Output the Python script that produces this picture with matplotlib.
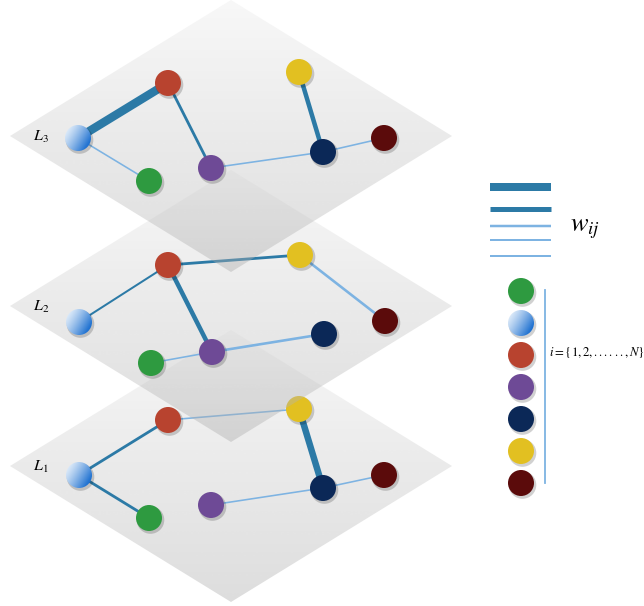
import numpy as np
import matplotlib
matplotlib.use("Agg")
import matplotlib.pyplot as plt
from matplotlib.patches import Polygon, Circle

plt.rcParams["mathtext.fontset"] = "stix"

W, H = 644, 606

# layer planes: centre y of each diamond (pixel coords)
layer_names = ["L_1", "L_2", "L_3"]
layer_cy = [466, 306, 136]
plane_cx, plane_hw, plane_hh = 231, 221, 136

node_order = ["green", "lightblue", "red", "purple", "navy", "yellow", "maroon"]
node_colors = {
    "green": "#2e9a40",
    "red": "#b8432f",
    "purple": "#6e4a96",
    "navy": "#0b2857",
    "yellow": "#e2c021",
    "maroon": "#5b0b0b",
}

# node positions per layer
pos_L1 = {"red": (168, 420), "yellow": (299, 409), "lightblue": (79, 475),
          "maroon": (384, 475), "navy": (323, 488), "purple": (211, 505),
          "green": (149, 518)}
pos_L2 = {"red": (168, 265), "yellow": (300, 255), "lightblue": (79, 322),
          "maroon": (385, 321), "navy": (324, 334), "purple": (212, 352),
          "green": (151, 363)}
pos_L3 = {"red": (168, 83), "yellow": (299, 72), "lightblue": (78, 138),
          "maroon": (384, 138), "navy": (323, 152), "purple": (211, 168),
          "green": (149, 181)}

# edges: (from, to, weight class)
edges_L1 = [("red", "yellow", 1), ("lightblue", "red", 3), ("lightblue", "green", 3),
            ("yellow", "navy", 5), ("purple", "navy", 1), ("navy", "maroon", 1)]
edges_L2 = [("red", "yellow", 3), ("lightblue", "red", 7), ("red", "purple", 4),
            ("yellow", "maroon", 2), ("green", "purple", 1), ("purple", "navy", 2)]
edges_L3 = [("lightblue", "red", 6), ("red", "purple", 3), ("lightblue", "green", 1),
            ("purple", "navy", 1), ("yellow", "navy", 4), ("navy", "maroon", 1)]

# legend of weights (pixel thickness)
legend_bar_px = [8, 5, 2.5, 2, 2]
legend_bar_y = [187, 209, 226, 240, 256]

DARK = "#2c7aa6"
LIGHT = "#7db3e2"
edge_style = {1: (LIGHT, 1.6), 2: (LIGHT, 2.6), 3: (DARK, 2.8), 7: (DARK, 2.0),
              4: (DARK, 4.5), 5: (DARK, 6.5), 6: (DARK, 8.5)}

R = 13
PX = 0.72  # points per pixel at dpi 100

fig = plt.figure(figsize=(W / 100, H / 100), dpi=100)
ax = fig.add_axes([0, 0, 1, 1])
ax.set_xlim(0, W)
ax.set_ylim(H, 0)
ax.axis("off")


def draw_plane(cy, z):
    pts = [(plane_cx - plane_hw, cy), (plane_cx, cy - plane_hh),
           (plane_cx + plane_hw, cy), (plane_cx, cy + plane_hh)]
    poly = Polygon(pts, closed=True, facecolor="none", edgecolor="none", zorder=z)
    ax.add_patch(poly)
    t = np.linspace(0, 1, 200)[:, None]
    g = 0.93 - 0.26 * t
    img = np.zeros((200, 1, 4))
    img[..., 0] = g
    img[..., 1] = g
    img[..., 2] = g
    img[..., 3] = 0.4
    im = ax.imshow(img, extent=(plane_cx - plane_hw, plane_cx + plane_hw,
                                cy + plane_hh, cy - plane_hh),
                   aspect="auto", interpolation="bilinear", zorder=z)
    im.set_clip_path(poly)


def draw_node(name, x, y, z):
    ax.add_patch(Circle((x + 1.5, y + 2), R + 0.8, color="black", alpha=0.18,
                        lw=0, zorder=z))
    if name == "lightblue":
        c = Circle((x, y), R, facecolor="none", edgecolor="none", zorder=z + 0.1)
        ax.add_patch(c)
        n = 60
        xx, yy = np.meshgrid(np.linspace(0, 1, n), np.linspace(0, 1, n))
        t = np.clip(0.75 * xx + 0.45 * yy, 0, 1) ** 1.3
        top = np.array([0.93, 0.96, 0.99])
        bot = np.array([0.13, 0.45, 0.82])
        img = top[None, None, :] * (1 - t[..., None]) + bot[None, None, :] * t[..., None]
        im = ax.imshow(img, extent=(x - R, x + R, y + R, y - R), aspect="auto",
                       interpolation="bilinear", zorder=z + 0.1)
        im.set_clip_path(c)
    else:
        ax.add_patch(Circle((x, y), R, color=node_colors[name], lw=0, zorder=z + 0.1))


layers = [(pos_L1, edges_L1), (pos_L2, edges_L2), (pos_L3, edges_L3)]
for k, ((pos, edges), cy, name) in enumerate(zip(layers, layer_cy, layer_names)):
    base = 10 * k
    draw_plane(cy, base)
    for a, b, w in edges:
        col, px = edge_style[w]
        (x1, y1), (x2, y2) = pos[a], pos[b]
        ax.plot([x1, x2], [y1, y2], color=col, lw=px * PX, solid_capstyle="butt",
                zorder=base + 1)
    for nm, (x, y) in pos.items():
        draw_node(nm, x, y, base + 2)
    ax.text(41, cy + 1, rf"${name}$", fontsize=11.5,
            ha="center", va="center", zorder=base + 3)

# weight legend
for yb, px, k in zip(legend_bar_y, legend_bar_px, range(5)):
    ax.plot([490, 551], [yb, yb], color=DARK if k < 2 else LIGHT, lw=px * PX,
            solid_capstyle="butt", zorder=40)
ax.text(570, 228, r"$w_{ij}$", fontsize=19, ha="left", va="center", zorder=40)

# node legend
leg_x = 521
for k, nm in enumerate(node_order):
    draw_node(nm, leg_x, 291 + 32 * k, 40)
ax.plot([545, 545], [290, 483], color=LIGHT, lw=1.3, zorder=40)
ax.text(549, 353, r"$i=\{1,2,......,N\}$", fontsize=9.2, ha="left",
        va="center", zorder=40)

fig.savefig("out.png", dpi=100)
